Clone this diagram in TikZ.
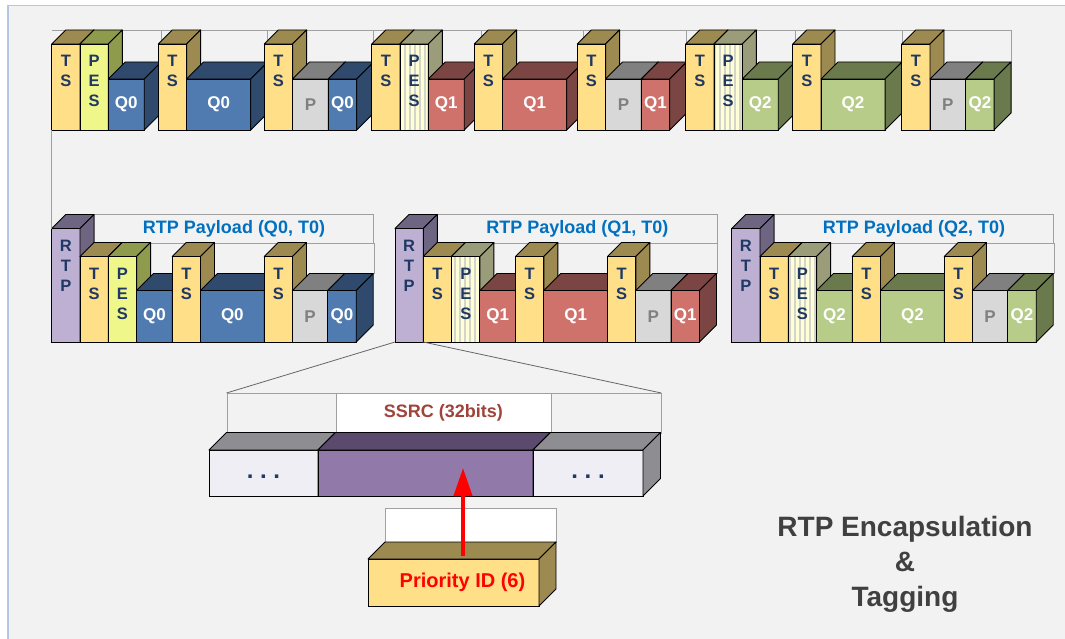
\documentclass[tikz,border=0pt]{standalone}
\usepackage{fontspec}
\setmainfont{Liberation Sans}
\usetikzlibrary{arrows.meta,patterns.meta}
\definecolor{panelgray}{RGB}{242,242,242}
\definecolor{panelblue}{RGB}{180,199,231}
\definecolor{framegray}{RGB}{160,160,160}
\definecolor{tsfront}{RGB}{255,223,135}
\definecolor{tsdark}{RGB}{156,138,80}
\definecolor{pesfront0}{RGB}{240,247,138}
\definecolor{pesdark0}{RGB}{142,154,76}
\definecolor{pesdark1}{RGB}{155,156,122}
\definecolor{pesdark2}{RGB}{155,156,122}
\definecolor{stripelight}{RGB}{255,255,215}
\definecolor{stripegray}{RGB}{212,212,200}
\definecolor{qfront0}{RGB}{79,123,176}
\definecolor{qdark0}{RGB}{47,74,108}
\definecolor{qfront1}{RGB}{207,114,108}
\definecolor{qdark1}{RGB}{122,69,66}
\definecolor{qfront2}{RGB}{183,204,136}
\definecolor{qdark2}{RGB}{106,122,76}
\definecolor{padfront}{RGB}{216,216,216}
\definecolor{paddark}{RGB}{128,128,128}
\definecolor{rtpfront}{RGB}{190,176,211}
\definecolor{rtpdark}{RGB}{110,101,130}
\definecolor{navytext}{RGB}{31,56,100}
\definecolor{labelblue}{RGB}{0,112,192}
\definecolor{ssrctext}{RGB}{160,67,58}
\definecolor{ssrcfront}{RGB}{145,121,170}
\definecolor{ssrcdark}{RGB}{91,74,110}
\definecolor{fieldfront}{RGB}{238,238,244}
\definecolor{fielddark}{RGB}{142,142,146}
\definecolor{titlegray}{RGB}{64,64,64}

% one 3D block: front face is the node, top and side faces drawn on it
\newcommand{\cube}[9]{%
  \pgfmathsetmacro\cubew{(#3)-(#2)}\pgfmathsetmacro\cubeh{(#5)-(#4)}%
  \node[cubefront,#7,minimum width=\cubew pt,minimum height=\cubeh pt,anchor=north west] (#1) at (#2,#4) {#9};
  \filldraw[cubeedge,fill=#8] (#1.north west) -- ++(#6,-#6) -- ++(\cubew,0) -- (#1.north east) -- cycle;
  \filldraw[cubeedge,fill=#8] (#1.north east) -- ++(#6,-#6) -- ++(0,\cubeh) -- (#1.south east) -- cycle;
}
% header block (TS, PES, RTP) with stacked letters
\newcommand{\hdr}[6]{%
  \cube{#1}{#2}{#2+28.3}{#3}{\rowbot}{14}{#4}{#5}{}
  \node[hdtext] (#1t) at ([yshift=-11pt]#1.north) {#6};
}
% payload block (Q, P)
\newcommand{\pay}[6]{%
  \cube{#1}{#2}{#3}{\rowpay}{\rowbot}{17}{#4}{#5}{#6}
}
% TS packets of the first row
\newcommand{\pkta}[3]{%
  \draw[frameline] (#2,30) -- (#2+109.5,30) -- (#2+109.5,62);
  \hdr{#1ts}{#2}{44}{tsface}{tsdark}{T\\S}
  \hdr{#1pes}{#2+28.3}{44}{pesface#3}{pesdark#3}{P\\E\\S}
  \pay{#1q}{#2+56.6}{#2+92.5}{qface#3}{qdark#3}{Q#3}
}
\newcommand{\pktb}[3]{%
  \draw[frameline] (#2,30) -- (#2+109.4,30) -- (#2+109.4,62);
  \hdr{#1ts}{#2}{44}{tsface}{tsdark}{T\\S}
  \pay{#1q}{#2+28.3}{#2+92.4}{qface#3}{qdark#3}{Q#3}
}
\newcommand{\pktc}[3]{%
  \draw[frameline] (#2,30) -- (#2+109.4,30) -- (#2+109.4,62);
  \hdr{#1ts}{#2}{44}{tsface}{tsdark}{T\\S}
  \pay{#1p}{#2+28.3}{#2+64}{padface}{paddark}{P}
  \pay{#1q}{#2+64}{#2+92.4}{qface#3}{qdark#3}{Q#3}
}
% RTP packet of the second row
\newcommand{\rtpgroup}[3]{%
  \node[payframe,minimum width=279.2pt,minimum height=28pt,anchor=north west] (#1lab) at (#2+42.3,214.5) {RTP Payload (Q#3, T0)};
  \draw[frameline] (#1lab.south east) -- ++(0,31);
  \hdr{#1rtp}{#2}{228.5}{rtpface}{rtpdark}{R\\T\\P}
  \hdr{#1tsa}{#2+28.3}{256.5}{tsface}{tsdark}{T\\S}
  \hdr{#1pes}{#2+56.6}{256.5}{pesface#3}{pesdark#3}{P\\E\\S}
  \pay{#1qa}{#2+84.9}{#2+120.5}{qface#3}{qdark#3}{Q#3}
  \hdr{#1tsb}{#2+120.5}{256.5}{tsface}{tsdark}{T\\S}
  \pay{#1qb}{#2+148.8}{#2+212.5}{qface#3}{qdark#3}{Q#3}
  \hdr{#1tsc}{#2+212.5}{256.5}{tsface}{tsdark}{T\\S}
  \pay{#1p}{#2+240.8}{#2+276}{padface}{paddark}{P}
  \pay{#1qc}{#2+276}{#2+304.5}{qface#3}{qdark#3}{Q#3}
}

\begin{document}
\begin{tikzpicture}[x=1pt,y=-1pt]
  % Styles
  \tikzset{cubefront/.style={draw=black,line width=0.9pt,inner sep=0pt,outer sep=0pt}}
  \tikzset{cubeedge/.style={draw=black,line width=0.9pt,line join=round}}
  \tikzset{hdtext/.style={anchor=north,inner sep=0pt,align=center,text=navytext,font=\fontsize{16.5}{20}\selectfont\bfseries}}
  \tikzset{plfont/.style={font=\fontsize{17}{20}\selectfont\bfseries}}
  \tikzset{tsface/.style={fill=tsfront}}
  \tikzset{rtpface/.style={fill=rtpfront}}
  \tikzset{pesface0/.style={fill=pesfront0}}
  \tikzset{pesface1/.style={preaction={fill=stripelight},pattern={Lines[angle=90,distance=5pt,line width=2.2pt]},pattern color=stripegray}}
  \tikzset{pesface2/.style={pesface1}}
  \tikzset{qface0/.style={fill=qfront0,text=white,plfont}}
  \tikzset{qface1/.style={fill=qfront1,text=white,plfont}}
  \tikzset{qface2/.style={fill=qfront2,text=white,plfont}}
  \tikzset{padface/.style={fill=padfront,text=paddark,plfont}}
  \tikzset{fieldface/.style={fill=fieldfront,text=navytext,text height=11pt,font=\fontsize{24}{24}\selectfont\bfseries}}
  \tikzset{ssrcface/.style={fill=ssrcfront}}
  \tikzset{prioface/.style={fill=tsfront,text=red,font=\fontsize{20}{24}\selectfont\bfseries}}
  \tikzset{frameline/.style={draw=framegray,line width=0.8pt}}
  \tikzset{payframe/.style={draw=framegray,line width=0.8pt,inner sep=0pt,text=labelblue,font=\fontsize{18}{22}\selectfont\bfseries}}
  \tikzset{fieldbox/.style={draw=framegray,line width=0.8pt,inner sep=0pt,fill=panelgray}}
  \tikzset{zoomline/.style={draw=black!60,line width=0.8pt}}
  \tikzset{tagarrow/.style={draw=red,line width=4pt,-{Triangle[width=18pt,length=28pt]}}}
  \tikzset{title/.style={align=center,inner sep=0pt,text=titlegray,font=\fontsize{28}{35}\selectfont\bfseries}}

  % Panel
  \useasboundingbox (0,0) rectangle (1065,639);
  \fill[white] (0,0) rectangle (1065,639);
  \fill[panelgray] (8,5.5) rectangle (1065,639);
  \draw[panelblue,line width=1.5pt] (8,639) -- (8,5.5) -- (1065,5.5);

  % Row 1: TS packets
  \def\rowbot{130}\def\rowpay{79}
  \pkta{a0}{51.7}{0}  \pktb{b0}{158.3}{0} \pktc{c0}{264.3}{0}
  \pkta{a1}{371.7}{1} \pktb{b1}{474.3}{1} \pktc{c1}{577.3}{1}
  \pkta{a2}{685.7}{2} \pktb{b2}{792.7}{2} \pktc{c2}{901.7}{2}

  % Row 2: RTP packets
  \def\rowbot{342}\def\rowpay{290.5}
  \rtpgroup{g0}{51.7}{0}
  \rtpgroup{g1}{395}{1}
  \rtpgroup{g2}{731.7}{2}
  \draw[frameline] (a0ts.south west) -- (g0rtp.north west);

  % RTP header fields
  \node[fieldbox,minimum width=109pt,minimum height=39.5pt,anchor=north west] (ssrcwl) at (226.5,393) {};
  \node[fieldbox,fill=white,text=ssrctext,font=\fontsize{18}{22}\selectfont\bfseries,minimum width=215pt,minimum height=39.5pt,anchor=north west] (ssrcwm) at (335.5,393) {SSRC (32bits)};
  \node[fieldbox,minimum width=110pt,minimum height=39.5pt,anchor=north west] (ssrcwr) at (550.5,393) {};
  \def\rowbot{496}
  \cube{ssrcl}{209}{318}{450}{496}{17.5}{fieldface}{fielddark}{.\ .\ .}
  \cube{ssrcm}{318}{533}{450}{496}{17.5}{ssrcface}{ssrcdark}{}
  \cube{ssrcr}{533}{643}{450}{496}{17.5}{fieldface}{fielddark}{.\ .\ .}
  \draw[zoomline] (g1rtp.south west) -- (ssrcwl.north west);
  \draw[zoomline] (g1rtp.south east) -- (ssrcwr.north east);

  % Priority tag
  \node[fieldbox,fill=white,minimum width=171pt,minimum height=34.5pt,anchor=north west] (tagw) at (385,507.5) {};
  \cube{prio}{368}{539}{559}{606}{17}{prioface}{tsdark}{\hspace*{18pt}Priority ID (6)}
  \coordinate (tagfrom) at (463,556);
  \coordinate (tagto) at (463,468);
  \draw[tagarrow] (tagfrom) -- (tagto);

  % Title
  \node[title] (caption) at (905,564.5) {RTP Encapsulation\\\&\\Tagging};
\end{tikzpicture}
\end{document}
